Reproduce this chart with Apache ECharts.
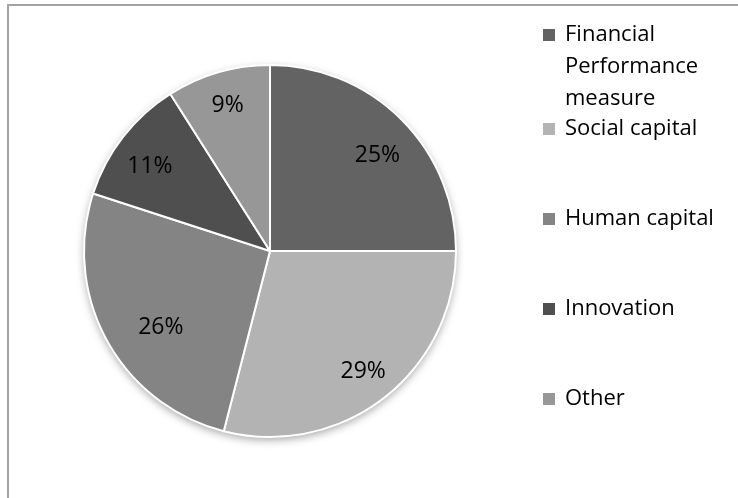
<!DOCTYPE html>
<html>
<head>
<meta charset="utf-8">
<script src="https://cdn.jsdelivr.net/npm/echarts@6/dist/echarts.min.js"></script>
<style>
  html, body { margin: 0; padding: 0; background: #fff; }
  #chart { width: 738px; height: 498px; }
</style>
</head>
<body>
<div id="chart"></div>
<script>
// Share of measures
const categories = ['Financial Performance measure', 'Social capital', 'Human capital', 'Innovation', 'Other'];
const shares = [25, 29, 26, 11, 9];
const sliceColors = ['#636363', '#b3b3b3', '#848484', '#4f4f4f', '#979797'];

const FONT = '"Open Sans", "Noto Sans", sans-serif';
const pieData = categories.map((name, i) => ({ name, value: shares[i], itemStyle: { color: sliceColors[i] } }));

// nudges for the percentage labels (best-fit style placement)
const labelNudge = {
  'Financial Performance measure': [0, 12],
  'Innovation': [0, 9],
  'Human capital': [24, 3]
};

const center = [270, 251];
const R = 186;

const legendText = { fontFamily: FONT, fontSize: 22, color: '#000', lineHeight: 32, padding: [0, 0, 0, 5] };

const chart = echarts.init(document.getElementById('chart'), null, { renderer: 'canvas' });
chart.setOption({
  animation: false,
  backgroundColor: '#fff',
  graphic: [{
    type: 'rect',
    shape: { x: 8, y: 5, width: 760, height: 520 },
    style: { fill: 'none', stroke: '#a3a3a3', lineWidth: 2 },
    silent: true,
    z: -10
  }],
  legend: [{
    // first entry wraps over three lines; its marker sits beside the first line
    orient: 'vertical',
    left: 538,
    top: 14,
    data: [categories[0]],
    icon: 'path://M0,0h0.01v0.01h-0.01zM0,10h12v12h-12zM11.99,95.99h0.01v0.01h-0.01z',
    itemWidth: 12,
    itemHeight: 96,
    itemGap: 0,
    itemStyle: { borderWidth: 0 },
    formatter: () => 'Financial\nPerformance\nmeasure',
    textStyle: legendText,
    selectedMode: false
  }, {
    orient: 'vertical',
    left: 538,
    top: 108,
    data: categories.slice(1),
    icon: 'rect',
    itemWidth: 12,
    itemHeight: 12,
    itemGap: 58,
    itemStyle: { borderWidth: 0 },
    textStyle: legendText,
    selectedMode: false
  }],
  series: [
    {
      type: 'pie',
      center, radius: [0, R],
      startAngle: 90, clockwise: true,
      silent: true, z: 2,
      label: { show: false }, labelLine: { show: false },
      itemStyle: { borderColor: '#fff', borderWidth: 2 },
      data: pieData
    },
    {
      // soft drop shadow under the pie
      type: 'pie',
      center, radius: [0, R],
      startAngle: 90, clockwise: true,
      silent: true, z: 1,
      label: { show: false }, labelLine: { show: false },
      itemStyle: { color: '#fff', shadowBlur: 8, shadowColor: 'rgba(0,0,0,0.35)', shadowOffsetY: 3 },
      data: pieData.map(d => ({ name: d.name, value: d.value, itemStyle: { color: '#fff' } }))
    },
    {
      // percentage labels placed toward the rim
      type: 'pie',
      center, radius: [112, R],
      startAngle: 90, clockwise: true,
      silent: true, z: 3,
      labelLine: { show: false },
      label: {
        show: true,
        position: 'inside',
        formatter: p => p.value + '%',
        fontFamily: FONT,
        fontSize: 23,
        color: '#000'
      },
      data: pieData.map(d => ({
        name: d.name,
        value: d.value,
        itemStyle: { color: 'rgba(0,0,0,0)' },
        label: labelNudge[d.name] ? { offset: labelNudge[d.name] } : {}
      }))
    }
  ]
});
</script>
</body>
</html>
